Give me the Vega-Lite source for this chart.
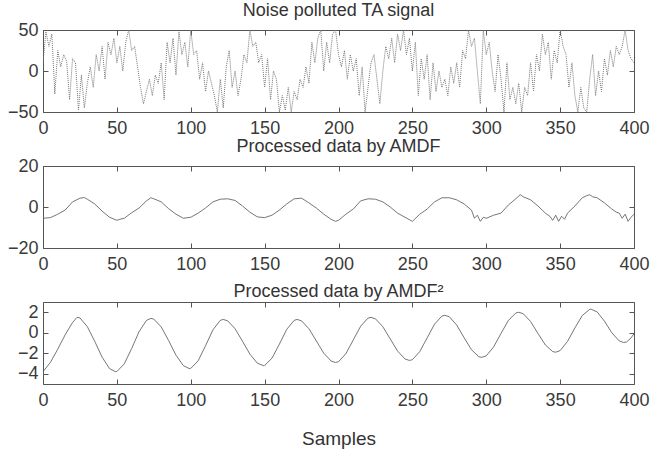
{
  "$schema": "https://vega.github.io/schema/vega-lite/v6.json",
  "padding": {"left": 4, "top": 1, "right": 0, "bottom": 0},
  "background": "white",
  "bounds": "flush",
  "spacing": 54,
  "config": {
    "view": {"stroke": "#555", "strokeWidth": 1},
    "font": "Liberation Sans",
    "axis": {
      "domain": false, "grid": false, "tickColor": "#555", "tickSize": -5,
      "labelFont": "Liberation Sans", "labelFontSize": 18, "labelColor": "#3a3a3a",
      "labelOverlap": false, "labelBound": false, "labelFlush": false, "labelPadding": 10,
      "title": null
    },
    "axisBottom": {"labelPadding": 12},
    "title": {"font": "Liberation Sans", "fontSize": 18, "fontWeight": "normal", "color": "#333", "offset": 1}
  },
  "datasets": {
    "ta": [
      {"x":0,"y":10},{"x":2,"y":48},{"x":4,"y":30},{"x":6,"y":45},{"x":8,"y":-28},{"x":10,"y":25},{"x":12,"y":5},{"x":14,"y":20},{"x":16,"y":12},{"x":18,"y":-35},
      {"x":20,"y":15},{"x":22,"y":10},{"x":24,"y":-48},{"x":26,"y":-5},{"x":28,"y":-45},{"x":30,"y":-15},{"x":32,"y":5},{"x":34,"y":-20},{"x":36,"y":20},{"x":38,"y":0},
      {"x":40,"y":30},{"x":42,"y":-10},{"x":44,"y":35},{"x":46,"y":20},{"x":48,"y":40},{"x":50,"y":10},{"x":52,"y":30},{"x":54,"y":0},{"x":56,"y":35},{"x":58,"y":50},
      {"x":60,"y":25},{"x":62,"y":30},{"x":64,"y":5},{"x":66,"y":-20},{"x":68,"y":-40},{"x":70,"y":-25},{"x":72,"y":-10},{"x":74,"y":-30},{"x":76,"y":-5},{"x":78,"y":-15},
      {"x":80,"y":10},{"x":82,"y":-35},{"x":84,"y":35},{"x":86,"y":10},{"x":88,"y":40},{"x":90,"y":-5},{"x":92,"y":48},{"x":94,"y":20},{"x":96,"y":35},{"x":98,"y":5},
      {"x":100,"y":50},{"x":102,"y":20},{"x":104,"y":25},{"x":106,"y":-10},{"x":108,"y":10},{"x":110,"y":-25},{"x":112,"y":0},{"x":114,"y":-15},{"x":116,"y":-30},{"x":118,"y":-50},
      {"x":120,"y":-10},{"x":122,"y":-45},{"x":124,"y":5},{"x":126,"y":25},{"x":128,"y":-20},{"x":130,"y":0},{"x":132,"y":-30},{"x":134,"y":-10},{"x":136,"y":20},{"x":138,"y":10},
      {"x":140,"y":50},{"x":142,"y":30},{"x":144,"y":35},{"x":146,"y":10},{"x":148,"y":20},{"x":150,"y":-20},{"x":152,"y":15},{"x":154,"y":-35},{"x":156,"y":0},{"x":158,"y":-10},
      {"x":160,"y":-50},{"x":162,"y":-30},{"x":164,"y":-48},{"x":166,"y":-20},{"x":168,"y":-50},{"x":170,"y":-25},{"x":172,"y":-35},{"x":174,"y":-10},{"x":176,"y":-20},{"x":178,"y":5},
      {"x":180,"y":-15},{"x":182,"y":35},{"x":184,"y":10},{"x":186,"y":40},{"x":188,"y":50},{"x":190,"y":0},{"x":192,"y":35},{"x":194,"y":10},{"x":196,"y":45},{"x":198,"y":50},
      {"x":200,"y":20},{"x":202,"y":5},{"x":204,"y":25},{"x":206,"y":-10},{"x":208,"y":20},{"x":210,"y":0},{"x":212,"y":15},{"x":214,"y":-30},{"x":216,"y":5},{"x":218,"y":-50},
      {"x":220,"y":-20},{"x":222,"y":10},{"x":224,"y":20},{"x":226,"y":-10},{"x":228,"y":-40},{"x":230,"y":0},{"x":232,"y":30},{"x":234,"y":15},{"x":236,"y":40},{"x":238,"y":10},
      {"x":240,"y":45},{"x":242,"y":25},{"x":244,"y":50},{"x":246,"y":20},{"x":248,"y":40},{"x":250,"y":0},{"x":252,"y":35},{"x":254,"y":-30},{"x":256,"y":15},{"x":258,"y":-10},
      {"x":260,"y":20},{"x":262,"y":-35},{"x":264,"y":10},{"x":266,"y":-25},{"x":268,"y":0},{"x":270,"y":-20},{"x":272,"y":-10},{"x":274,"y":-30},{"x":276,"y":5},{"x":278,"y":-15},
      {"x":280,"y":10},{"x":282,"y":-20},{"x":284,"y":25},{"x":286,"y":15},{"x":288,"y":50},{"x":290,"y":30},{"x":292,"y":40},{"x":294,"y":0},{"x":296,"y":-40},{"x":298,"y":50},
      {"x":300,"y":20},{"x":302,"y":35},{"x":304,"y":0},{"x":306,"y":-25},{"x":308,"y":20},{"x":310,"y":-10},{"x":312,"y":-50},{"x":314,"y":10},{"x":316,"y":-35},{"x":318,"y":-20},
      {"x":320,"y":-40},{"x":322,"y":-15},{"x":324,"y":-50},{"x":326,"y":-20},{"x":328,"y":-30},{"x":330,"y":10},{"x":332,"y":-25},{"x":334,"y":20},{"x":336,"y":0},{"x":338,"y":45},
      {"x":340,"y":20},{"x":342,"y":35},{"x":344,"y":-10},{"x":346,"y":25},{"x":348,"y":10},{"x":350,"y":50},{"x":352,"y":30},{"x":354,"y":20},{"x":356,"y":-20},{"x":358,"y":10},
      {"x":360,"y":-30},{"x":362,"y":-50},{"x":364,"y":-20},{"x":366,"y":-45},{"x":368,"y":-50},{"x":370,"y":-10},{"x":372,"y":20},{"x":374,"y":-30},{"x":376,"y":0},{"x":378,"y":-25},
      {"x":380,"y":15},{"x":382,"y":-5},{"x":384,"y":25},{"x":386,"y":5},{"x":388,"y":30},{"x":390,"y":20},{"x":392,"y":30},{"x":394,"y":50},{"x":396,"y":25},{"x":398,"y":15},{"x":400,"y":10}
    ],
    "amdf": [
      {"x":0,"y":-5.5},{"x":5,"y":-5.2},{"x":10,"y":-3.5},{"x":15,"y":-1.5},{"x":20,"y":2.5},{"x":25,"y":4.3},{"x":28,"y":4.6},{"x":30,"y":3.8},{"x":35,"y":1.5},{"x":40,"y":-2.0},
      {"x":45,"y":-5.0},{"x":50,"y":-6.5},{"x":52,"y":-6.0},{"x":55,"y":-5.5},{"x":60,"y":-2.8},{"x":65,"y":-0.5},{"x":70,"y":3.0},{"x":73,"y":4.5},{"x":75,"y":4.0},{"x":80,"y":2.5},
      {"x":85,"y":-0.8},{"x":90,"y":-3.5},{"x":95,"y":-5.5},{"x":100,"y":-5.0},{"x":105,"y":-3.0},{"x":110,"y":-0.5},{"x":115,"y":2.5},{"x":120,"y":3.8},{"x":125,"y":4.0},{"x":130,"y":3.2},
      {"x":135,"y":0.5},{"x":140,"y":-2.5},{"x":145,"y":-4.8},{"x":150,"y":-5.2},{"x":155,"y":-4.0},{"x":160,"y":-1.5},{"x":165,"y":1.5},{"x":170,"y":4.0},{"x":175,"y":4.3},{"x":180,"y":2.0},
      {"x":185,"y":-0.5},{"x":190,"y":-3.5},{"x":195,"y":-6.0},{"x":198,"y":-7.0},{"x":200,"y":-6.5},{"x":205,"y":-3.5},{"x":210,"y":-1.0},{"x":215,"y":3.0},{"x":220,"y":4.0},{"x":225,"y":3.8},
      {"x":230,"y":2.5},{"x":235,"y":0.0},{"x":240,"y":-3.0},{"x":245,"y":-5.0},{"x":250,"y":-7.0},{"x":255,"y":-3.5},{"x":260,"y":-1.0},{"x":265,"y":2.5},{"x":270,"y":4.5},{"x":275,"y":4.5},
      {"x":280,"y":3.5},{"x":285,"y":1.5},{"x":290,"y":-1.5},{"x":292,"y":-5.5},{"x":294,"y":-4.0},{"x":296,"y":-7.0},{"x":298,"y":-5.0},{"x":300,"y":-5.5},{"x":305,"y":-4.0},{"x":310,"y":-3.0},
      {"x":315,"y":1.0},{"x":320,"y":4.0},{"x":323,"y":6.0},{"x":325,"y":5.0},{"x":330,"y":3.5},{"x":335,"y":0.5},{"x":340,"y":-3.0},{"x":343,"y":-4.5},{"x":345,"y":-6.5},{"x":347,"y":-4.0},
      {"x":349,"y":-7.0},{"x":351,"y":-4.5},{"x":353,"y":-6.0},{"x":355,"y":-3.0},{"x":360,"y":0.5},{"x":365,"y":4.5},{"x":368,"y":5.5},{"x":370,"y":6.0},{"x":372,"y":5.0},{"x":375,"y":4.5},
      {"x":380,"y":2.0},{"x":385,"y":-1.0},{"x":388,"y":-2.5},{"x":390,"y":-3.0},{"x":392,"y":-5.5},{"x":394,"y":-3.5},{"x":396,"y":-7.0},{"x":398,"y":-5.0},{"x":400,"y":-3.5}
    ],
    "amdf2": [
      {"x":0,"y":-3.8},{"x":5,"y":-2.9},{"x":10,"y":-1.6},{"x":15,"y":-0.2},{"x":20,"y":1.0},{"x":23,"y":1.5},{"x":25,"y":1.45},{"x":30,"y":0.6},{"x":35,"y":-0.83},{"x":40,"y":-2.38},
      {"x":45,"y":-3.49},{"x":49,"y":-3.8},{"x":50,"y":-3.78},{"x":55,"y":-3.04},{"x":60,"y":-1.54},{"x":65,"y":0.1},{"x":70,"y":1.2},{"x":73,"y":1.4},{"x":75,"y":1.33},{"x":80,"y":0.57},
      {"x":85,"y":-0.75},{"x":90,"y":-2.19},{"x":95,"y":-3.21},{"x":99,"y":-3.5},{"x":100,"y":-3.48},{"x":105,"y":-2.74},{"x":110,"y":-1.27},{"x":115,"y":0.28},{"x":120,"y":1.21},{"x":122,"y":1.3},
      {"x":125,"y":1.16},{"x":130,"y":0.39},{"x":135,"y":-0.82},{"x":140,"y":-2.08},{"x":145,"y":-2.96},{"x":149,"y":-3.2},{"x":150,"y":-3.19},{"x":155,"y":-2.48},{"x":160,"y":-1.11},{"x":165,"y":0.34},
      {"x":170,"y":1.21},{"x":172,"y":1.3},{"x":175,"y":1.16},{"x":180,"y":0.39},{"x":185,"y":-0.8},{"x":190,"y":-1.99},{"x":195,"y":-2.76},{"x":198,"y":-2.9},{"x":200,"y":-2.83},{"x":205,"y":-2.04},
      {"x":210,"y":-0.7},{"x":215,"y":0.64},{"x":220,"y":1.43},{"x":222,"y":1.5},{"x":225,"y":1.36},{"x":230,"y":0.59},{"x":235,"y":-0.6},{"x":240,"y":-1.79},{"x":245,"y":-2.56},{"x":248,"y":-2.7},
      {"x":250,"y":-2.63},{"x":255,"y":-1.84},{"x":260,"y":-0.5},{"x":265,"y":0.84},{"x":270,"y":1.63},{"x":272,"y":1.7},{"x":275,"y":1.56},{"x":280,"y":0.75},{"x":285,"y":-0.48},{"x":290,"y":-1.66},
      {"x":295,"y":-2.34},{"x":297,"y":-2.4},{"x":300,"y":-2.25},{"x":305,"y":-1.38},{"x":310,"y":-0.06},{"x":315,"y":1.2},{"x":320,"y":1.93},{"x":322,"y":2.0},{"x":325,"y":1.86},{"x":330,"y":1.1},
      {"x":335,"y":-0.07},{"x":340,"y":-1.19},{"x":345,"y":-1.84},{"x":347,"y":-1.9},{"x":350,"y":-1.74},{"x":355,"y":-0.85},{"x":360,"y":0.47},{"x":365,"y":1.68},{"x":370,"y":2.28},{"x":371,"y":2.3},
      {"x":375,"y":2.04},{"x":380,"y":1.13},{"x":385,"y":0.0},{"x":390,"y":-0.8},{"x":393,"y":-0.95},{"x":395,"y":-0.9},{"x":398,"y":-0.5},{"x":400,"y":-0.1}
    ]
  },
  "vconcat": [
    {
      "width": 591, "height": 82,
      "title": {"text": "Noise polluted TA signal"},
      "data": {"name": "ta"},
      "layer": [
        {
          "mark": {"type": "line", "color": "#777", "strokeWidth": 1, "strokeDash": [1, 1], "clip": true},
          "encoding": {
            "x": {"field": "x", "type": "quantitative", "scale": {"domain": [0, 400], "nice": false, "zero": false},
                  "axis": {"orient": "bottom", "values": [0,50,100,150,200,250,300,350,400]}},
            "y": {"field": "y", "type": "quantitative", "scale": {"domain": [-50, 50], "nice": false},
                  "axis": {"orient": "left", "values": [-50,0,50], "minExtent": 38, "maxExtent": 38}}
          }
        },
        {
          "mark": {"type": "line", "opacity": 0},
          "encoding": {
            "x": {"field": "x", "type": "quantitative", "axis": {"orient": "top", "labels": false, "values": [0,50,100,150,200,250,300,350,400], "minExtent": 0, "maxExtent": 0}},
            "y": {"field": "y", "type": "quantitative", "axis": {"orient": "right", "labels": false, "values": [-50,0,50], "minExtent": 0, "maxExtent": 0}}
          }
        }
      ],
      "resolve": {"axis": {"x": "independent", "y": "independent"}}
    },
    {
      "width": 591, "height": 82,
      "title": {"text": "Processed data by AMDF"},
      "data": {"name": "amdf"},
      "layer": [
        {
          "mark": {"type": "line", "color": "#666", "strokeWidth": 0.9, "clip": true},
          "encoding": {
            "x": {"field": "x", "type": "quantitative", "scale": {"domain": [0, 400], "nice": false, "zero": false},
                  "axis": {"orient": "bottom", "values": [0,50,100,150,200,250,300,350,400]}},
            "y": {"field": "y", "type": "quantitative", "scale": {"domain": [-20, 20], "nice": false},
                  "axis": {"orient": "left", "values": [-20,0,20], "minExtent": 38, "maxExtent": 38}}
          }
        },
        {
          "mark": {"type": "line", "opacity": 0},
          "encoding": {
            "x": {"field": "x", "type": "quantitative", "axis": {"orient": "top", "labels": false, "values": [0,50,100,150,200,250,300,350,400], "minExtent": 0, "maxExtent": 0}},
            "y": {"field": "y", "type": "quantitative", "axis": {"orient": "right", "labels": false, "values": [-20,0,20], "minExtent": 0, "maxExtent": 0}}
          }
        }
      ],
      "resolve": {"axis": {"x": "independent", "y": "independent"}}
    },
    {
      "width": 591, "height": 82,
      "title": {"text": "Processed data by AMDF²"},
      "data": {"name": "amdf2"},
      "layer": [
        {
          "mark": {"type": "line", "color": "#666", "strokeWidth": 0.9, "clip": true},
          "encoding": {
            "x": {"field": "x", "type": "quantitative", "scale": {"domain": [0, 400], "nice": false, "zero": false},
                  "axis": {"orient": "bottom", "values": [0,50,100,150,200,250,300,350,400], "title": "Samples", "titleFont": "Liberation Sans", "titleFontSize": 19, "titleFontWeight": "normal", "titleColor": "#333", "titlePadding": 20}},
            "y": {"field": "y", "type": "quantitative", "scale": {"domain": [-5, 3], "nice": false},
                  "axis": {"orient": "left", "values": [-4,-2,0,2], "minExtent": 38, "maxExtent": 38}}
          }
        },
        {
          "mark": {"type": "line", "opacity": 0},
          "encoding": {
            "x": {"field": "x", "type": "quantitative", "axis": {"orient": "top", "labels": false, "values": [0,50,100,150,200,250,300,350,400], "minExtent": 0, "maxExtent": 0}},
            "y": {"field": "y", "type": "quantitative", "axis": {"orient": "right", "labels": false, "values": [-4,-2,0,2], "minExtent": 0, "maxExtent": 0}}
          }
        }
      ],
      "resolve": {"axis": {"x": "independent", "y": "independent"}}
    }
  ]
}
